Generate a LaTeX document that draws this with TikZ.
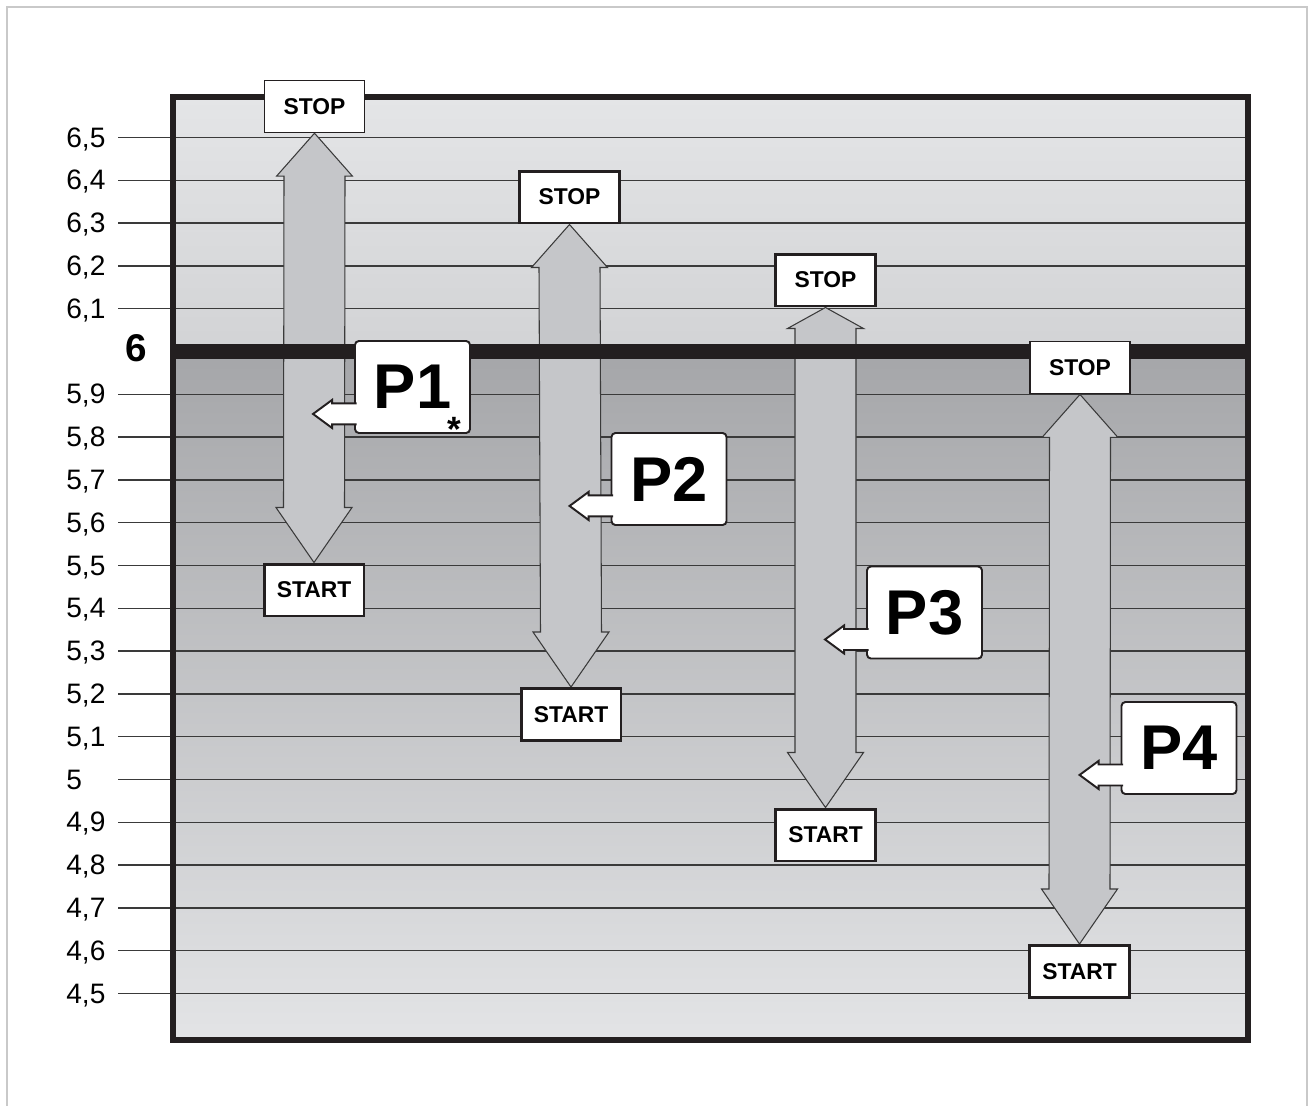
\documentclass[tikz,border=0pt]{standalone}
\usepackage{fontspec}
\setmainfont{Liberation Sans}
\usetikzlibrary{calc}
\pgfdeclarelayer{bg}
\pgfdeclarelayer{mid}
\pgfsetlayers{bg,mid,main}
\definecolor{uppertop}{HTML}{E4E5E7}
\definecolor{upperbot}{HTML}{D2D3D5}
\definecolor{lowertop}{HTML}{A5A6A9}
\definecolor{lowerbot}{HTML}{E3E4E6}
\definecolor{shaftgrey}{HTML}{C5C6C9}
\definecolor{linegrey}{HTML}{3A3A3A}
\definecolor{ink}{HTML}{231F20}
\definecolor{rimgrey}{HTML}{C9C9C9}
\newcommand{\updown}[3]{%
\draw[shaft] (#1.south) -- ++(38,#3) -- ++(-7.5,0) -- ($(#2.north)+(30.5,-55)$) -- ++(7.5,0) -- (#2.north) -- ++(-38,-55) -- ++(7.5,0) -- ($(#1.south)+(-30.5,#3)$) -- ++(-7.5,0) -- cycle;}
\newcommand{\pointer}[1]{%
\draw[tip] ($(#1.south west)+(2.5,-30.5)$) -- ++(-24.5,0) -- ++(0,-3.5) -- ++(-19,14) -- ++(19,14) -- ++(0,-3.5) -- ++(24.5,0);}
\begin{document}
\begin{tikzpicture} [x = 0.02cm, y = -0.02cm,
tick/.style = {draw=linegrey, line width=.7pt},
shaft/.style = {draw=linegrey, fill=shaftgrey, line width=.6pt},
stopbox/.style = {draw=ink, fill=white, line width=1.7pt, minimum width=2cm, minimum height=1.04cm, inner sep=0pt, font=\fontsize{13}{13}\selectfont\bfseries},
callout/.style = {draw=ink, fill=white, line width=1.1pt, rounded corners=2.2pt, minimum width=2.3cm, minimum height=1.84cm, inner sep=0pt, font=\fontsize{36}{36}\selectfont\bfseries},
tip/.style = {draw=ink, fill=white, line width=1.1pt},
level/.style = {anchor=base west, inner sep=0pt, font=\fontsize{16}{16}\selectfont}]
\useasboundingbox (0,0) rectangle (1309,1106);
\draw[rimgrey, line width=1.1pt] (7,1120) -- (7,7) -- (1307,7) -- (1307,1120);
\begin{pgfonlayer}{bg}
\shade[top color=uppertop, bottom color=upperbot] (173,97) rectangle (1248,351.5);
\shade[top color=lowertop, bottom color=lowerbot] (173,351.5) rectangle (1248,1040);
\foreach \lab [count=\i] in {{6,5},{6,4},{6,3},{6,2},{6,1}} {
  \pgfmathsetmacro\yy{351.5-42.8*(6-\i)}
  \draw[tick] (118,\yy) -- (1248,\yy);
  \node[level] (up\i) at (66,\yy+9.5) {\lab};
}
\foreach \lab [count=\i] in {{5,9},{5,8},{5,7},{5,6},{5,5},{5,4},{5,3},{5,2},{5,1},5,{4,9},{4,8},{4,7},{4,6},{4,5}} {
  \pgfmathsetmacro\yy{351.5+42.8*\i}
  \draw[tick] (118,\yy) -- (1248,\yy);
  \node[level] (lo\i) at (66,\yy+9.5) {\lab};
}
\end{pgfonlayer}
\node[anchor=base, inner sep=0pt, font=\fontsize{22}{22}\selectfont\bfseries] (six) at (136.5,361) {6};
\node[stopbox, line width=.8pt] (stop1) at (314.5,106.5) {STOP};
\node[stopbox] (start1) at (314,590) {START};
\node[stopbox] (stop2) at (569.5,197) {STOP};
\node[stopbox] (start2) at (571,714.5) {START};
\node[stopbox] (stop3) at (825.5,280) {STOP};
\node[stopbox] (start3) at (825.5,835) {START};
\node[stopbox, line width=1.1pt] (stop4) at (1080,367.5) {STOP};
\node[stopbox] (start4) at (1079.5,971.5) {START};
\begin{pgfonlayer}{mid}
\updown{stop1}{start1}{43}
\updown{stop2}{start2}{43}
\updown{stop3}{start3}{21}
\updown{stop4}{start4}{43}
\draw[ink, line width=8pt] (170,351.5) -- (1251,351.5);
\draw[ink, line width=3.4pt] (173,97) rectangle (1248,1040);
\end{pgfonlayer}
\node[callout] (p1) at (412.5,387) {P1};
\node[callout] (p2) at (669,479) {P2};
\node[callout] (p3) at (924.5,612.5) {P3};
\node[callout] (p4) at (1179,748) {P4};
\node[anchor=base, inner sep=0pt, font=\fontsize{20}{20}\selectfont\bfseries] (star1) at (454,441) {*};
\foreach \p in {p1,p2,p3,p4} {\pointer{\p}}
\end{tikzpicture}
\end{document}
